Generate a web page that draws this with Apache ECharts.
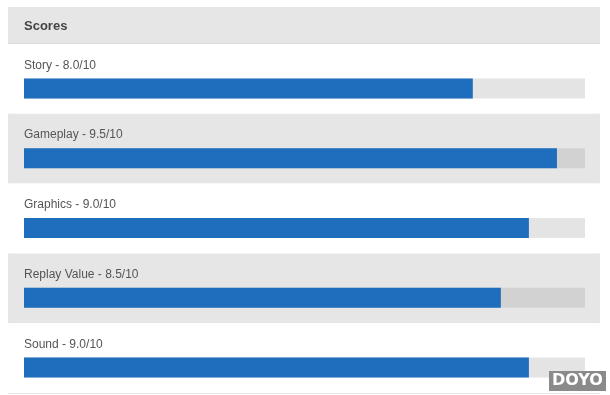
<!DOCTYPE html>
<html><head><meta charset="utf-8">
<script src="https://cdn.jsdelivr.net/npm/echarts@6/dist/echarts.min.js"></script>
<style>html,body{margin:0;padding:0;background:#fff;overflow:hidden}#c{width:610px;height:420px}</style>
</head><body><div id="c"></div>
<script>
var categories = ['Story', 'Gameplay', 'Graphics', 'Replay Value', 'Sound'];
var scores = [8.0, 9.5, 9.0, 8.5, 9.0];
var maxScore = 10;
var title = 'Scores';

var chart = echarts.init(document.getElementById('c'), null, {renderer: 'canvas'});
var trackColors = ['#e4e4e4', '#d2d2d2'];
var option = {
  backgroundColor: '#ffffff',
  animation: false,
  graphic: [
    {type: 'rect', shape: {x: 8.5, y: 7.5, width: 591, height: 386}, style: {fill: 'none', stroke: '#e6e6e6', lineWidth: 1}, z: 0},
    {type: 'rect', shape: {x: 8, y: 7, width: 592, height: 37}, style: {fill: '#e6e6e6'}, z: 1},
    {type: 'rect', shape: {x: 8, y: 43, width: 592, height: 1}, style: {fill: '#dcdcdc'}, z: 1},
    {type: 'text', left: 24, top: 20, style: {text: title, font: 'bold 13px "Liberation Sans", Arial, sans-serif', fill: '#444444'}, z: 2},
    {type: 'rect', shape: {x: 549, y: 371, width: 57, height: 20}, style: {fill: '#8a8a8a'}, z: 10},
    {type: 'text', left: 552, top: 373, style: {text: 'DOYO', font: 'bold 16px "DejaVu Sans", sans-serif', fill: '#ffffff'}, z: 11}
  ],
  grid: [
    {left: 8, right: 10, top: 44, height: 349, show: false},
    {left: 24, right: 25, top: 53.5, height: 348.75, show: false}
  ],
  xAxis: [
    {gridIndex: 0, type: 'value', min: 0, max: maxScore, show: false},
    {gridIndex: 1, type: 'value', min: 0, max: maxScore, show: false}
  ],
  yAxis: [
    {gridIndex: 0, type: 'category', data: categories, inverse: true,
     axisLine: {show: false}, axisTick: {show: false}, axisLabel: {show: false},
     splitLine: {show: false},
     splitArea: {show: true, areaStyle: {color: ['#ffffff', '#e6e6e6']}}},
    {gridIndex: 1, type: 'category', data: categories, inverse: true, show: false}
  ],
  series: [
    {type: 'bar', xAxisIndex: 1, yAxisIndex: 1, barWidth: 20, barGap: '-100%',
     data: categories.map(function (c, i) {
       return {value: maxScore, itemStyle: {color: trackColors[i % 2]}};
     }),
     label: {show: true, position: [0, -19],
       formatter: function (p) { return categories[p.dataIndex] + ' - ' + scores[p.dataIndex].toFixed(1) + '/' + maxScore; },
       fontFamily: '"Liberation Sans", Arial, sans-serif', fontSize: 12, color: '#555555'},
     silent: true},
    {type: 'bar', xAxisIndex: 1, yAxisIndex: 1, barWidth: 20, barGap: '-100%',
     data: scores, itemStyle: {color: '#1e6ebd'}, silent: true}
  ]
};
chart.setOption(option);
</script></body></html>
